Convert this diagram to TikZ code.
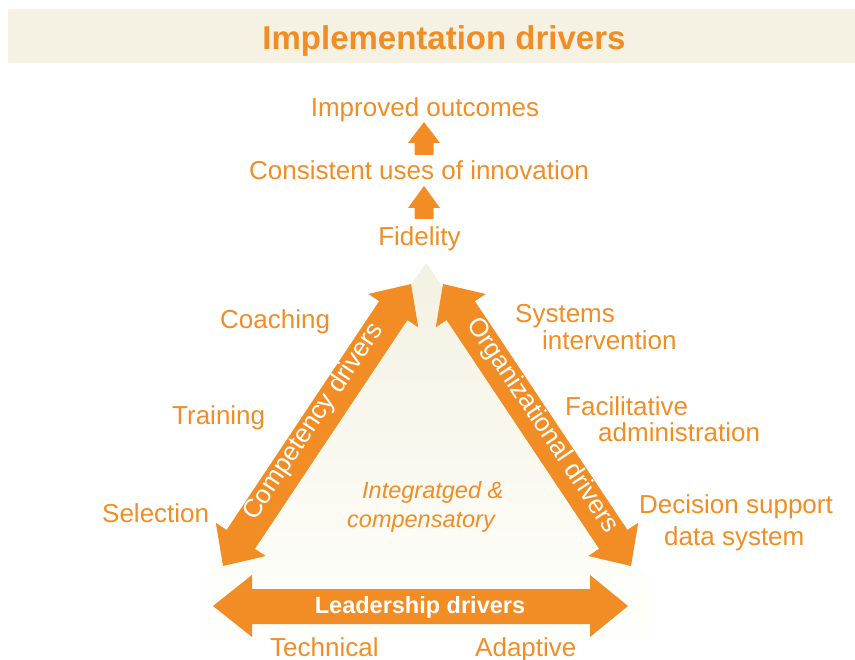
\documentclass[tikz,border=0pt]{standalone}
\usepackage{fontspec}
\setmainfont{Liberation Sans}
\usetikzlibrary{calc}
\definecolor{drvorange}{HTML}{F18D24}
\definecolor{bandbeige}{HTML}{F5F2E4}
\definecolor{tribeige}{HTML}{F3F1E2}
\definecolor{trilight}{HTML}{FDFDF8}
\definecolor{faintband}{HTML}{FEFEFB}
\tikzset{
  lbl/.style={inner sep=0pt, text=drvorange, font=\fontsize{26}{28}\selectfont},
  lblw/.style={lbl, anchor=base west},
  lblc/.style={lbl, anchor=base},
  onarrow/.style={inner sep=0pt, text=white, font=\fontsize{26}{28}\selectfont, anchor=mid},
  blockarrow/.style={fill=drvorange, draw=none},
}
\begin{document}
\begin{tikzpicture}[x=1pt,y=-1pt]
\useasboundingbox (0,0) rectangle (855,660);
% title band
\fill[bandbeige] (8,9) rectangle (855,63);
\node[lblc, font=\fontsize{33}{35}\selectfont\bfseries] (title) at (444,50) {Implementation drivers};

% outcome chain
\node[lblc] (outcomes) at (425,117) {Improved outcomes};
\node[lblc] (consistent) at (419,180) {Consistent uses of innovation};
\node[lblc] (fidelity) at (419.5,246) {Fidelity};
\fill[blockarrow] (424,122) -- (440,143) -- (433.5,143) -- (433.5,155) -- (414.5,155) -- (414.5,143) -- (408,143) -- cycle;
\fill[blockarrow] (424,186) -- (440,208) -- (433.5,208) -- (433.5,219) -- (414.5,219) -- (414.5,208) -- (408,208) -- cycle;

% faint band and light triangle
\fill[faintband] (205,575) rectangle (650,640);
\shade[top color=tribeige, bottom color=trilight] (426,263) -- (208,576) -- (644,576) -- cycle;

% left arrow (competency)
\coordinate (LB) at (223,566);
\coordinate (LT) at (411,284);
\coordinate (LBb) at ($(LB)!32pt!(LT)$);
\coordinate (LTb) at ($(LT)!32pt!(LB)$);
\fill[blockarrow] (LB) -- ($(LBb)!30pt!90:(LT)$) -- ($(LBb)!17pt!90:(LT)$)
  -- ($(LTb)!17pt!-90:(LB)$) -- ($(LTb)!30pt!-90:(LB)$) -- (LT)
  -- ($(LTb)!30pt!90:(LB)$) -- ($(LTb)!17pt!90:(LB)$)
  -- ($(LBb)!17pt!-90:(LT)$) -- ($(LBb)!30pt!-90:(LT)$) -- cycle;
% right arrow (organizational)
\coordinate (RB) at (631,566);
\coordinate (RT) at (443,284);
\coordinate (RBb) at ($(RB)!32pt!(RT)$);
\coordinate (RTb) at ($(RT)!32pt!(RB)$);
\fill[blockarrow] (RB) -- ($(RBb)!30pt!90:(RT)$) -- ($(RBb)!17pt!90:(RT)$)
  -- ($(RTb)!17pt!-90:(RB)$) -- ($(RTb)!30pt!-90:(RB)$) -- (RT)
  -- ($(RTb)!30pt!90:(RB)$) -- ($(RTb)!17pt!90:(RB)$)
  -- ($(RBb)!17pt!-90:(RT)$) -- ($(RBb)!30pt!-90:(RT)$) -- cycle;
% bottom arrow (leadership)
\fill[blockarrow] (213,606) -- (252,575) -- (252,589) -- (590,589) -- (590,575) -- (628,606)
  -- (590,637) -- (590,624) -- (252,624) -- (252,637) -- cycle;

% arrow labels
\node[onarrow, rotate=56.3] (comp) at (317,424) {Competency drivers};
\node[onarrow, rotate=-56.3] (org) at (539,428) {Organizational drivers};
\node[inner sep=0pt, text=white, anchor=base, font=\fontsize{23.5}{25}\selectfont\bfseries] (lead) at (420,613) {Leadership drivers};

% centre text
\node[lblw, font=\fontsize{23.5}{25}\selectfont\itshape] (integ) at (362,499) {Integratged \&};
\node[lblw, font=\fontsize{23.5}{25}\selectfont\itshape] (comp2) at (347,527) {compensatory};

% side labels
\node[lblw] (coaching) at (220,329) {Coaching};
\node[lblw] (training) at (172,425) {Training};
\node[lblw] (selection) at (102,522) {Selection};
\node[lblw] (systems) at (515,323) {Systems};
\node[lblw] (interv) at (542,350) {intervention};
\node[lblw] (facil) at (565,416) {Facilitative};
\node[lblw] (admin) at (598,442) {administration};
\node[lblw] (decision) at (639,513) {Decision support};
\node[lblw] (datasys) at (664,545) {data system};
\node[lblw] (technical) at (270,656) {Technical};
\node[lblw] (adaptive) at (475,656) {Adaptive};
\end{tikzpicture}
\end{document}
